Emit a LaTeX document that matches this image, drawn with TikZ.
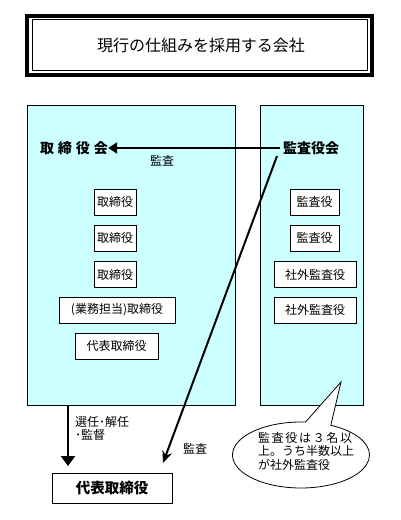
\documentclass[tikz,border=0pt]{standalone}
\usepackage{fontspec}
\setmainfont{Noto Sans CJK JP}
\usetikzlibrary{shapes.callouts,arrows.meta}
\definecolor{cyanbg}{HTML}{CCFFFF}
\tikzset{
  panel/.style={draw, line width=0.8pt, fill=cyanbg},
  smallbox/.style={draw, fill=white, line width=0.8pt, minimum height=26pt, inner sep=0pt, font=\fontsize{12}{12}\selectfont},
  lbl/.style={inner sep=0pt, font=\fontsize{12}{13.5}\selectfont},
  boldlbl/.style={inner sep=0pt, font=\fontsize{14}{14}\selectfont\bfseries},
  thickarr/.style={line width=2.5pt, -{Triangle[length=9pt,width=11pt]}},
  downarr/.style={line width=2.5pt, -{Triangle[length=10pt,width=14pt]}},
  diagarr/.style={line width=2pt, -{Stealth[length=12pt,width=10pt]}}
}
\begin{document}
\begin{tikzpicture}[x=1pt,y=-1pt]
\useasboundingbox (0,0) rectangle (400,520);
% title
\draw[line width=4pt] (27,16) rectangle (371.5,75);
\draw[line width=0.8pt] (32,19.5) rectangle (367,70.5);
\node[inner sep=0pt, font=\fontsize{16}{16}\selectfont] (title) at (201,45) {現行の仕組みを採用する会社};
% panels
\node[panel, minimum width=208pt, minimum height=300pt, inner sep=0pt] (left) at (131,255) {};
\node[panel, minimum width=103pt, minimum height=300pt, inner sep=0pt] (right) at (311.5,255) {};
% headings
\node[boldlbl] (board) at (74,148) {取\hspace{4pt}締\hspace{4pt}役\hspace{4pt}会};
\node[boldlbl] (audboard) at (311,148) {監査役会};
% left boxes
\node[smallbox, minimum width=42pt] (d1) at (115,202) {取締役};
\node[smallbox, minimum width=42pt] (d2) at (115,238) {取締役};
\node[smallbox, minimum width=42pt] (d3) at (115,274.5) {取締役};
\node[smallbox, minimum width=116pt] (d4) at (117,310) {(業務担当)取締役};
\node[smallbox, minimum width=83pt] (d5) at (116.5,346) {代表取締役};
% right boxes
\node[smallbox, minimum width=49pt] (a1) at (314.5,202) {監査役};
\node[smallbox, minimum width=49pt] (a2) at (314.5,238) {監査役};
\node[smallbox, minimum width=82pt] (a3) at (315,274.5) {社外監査役};
\node[smallbox, minimum width=82pt] (a4) at (315,310) {社外監査役};
% bottom box
\node[draw, fill=white, line width=0.8pt, minimum width=120pt, minimum height=30pt, inner sep=0pt, font=\fontsize{14.5}{14.5}\selectfont\bfseries] (rep) at (112,488) {代表取締役};
% arrows
\draw[thickarr] (audboard.west) ++(-3,0) coordinate (hstart) (hstart) -- (board.east);
\node[lbl] (l1) at (162,161) {監査};
\coordinate (dstart) at (68,405);
\coordinate (dend) at (68,466);
\draw[downarr] (dstart) -- (dend);
\node[lbl, align=left, anchor=north west] (l2) at (75,416) {選任･解任\\･監督};
\coordinate (gstart) at (277,156);
\coordinate (gend) at (163,463);
\draw[diagarr] (gstart) -- (gend);
\node[lbl] (l3) at (195,449) {監査};
% callout
\node[ellipse callout, draw, fill=white, line width=0.8pt, minimum width=137pt, minimum height=66pt, inner sep=0pt, callout absolute pointer={(341,382)}, callout pointer arc=22] (note) at (301,455) {};
\node[lbl, align=left] (notetext) at (306,451) {監\hspace{1.7pt}査\hspace{1.7pt}役\hspace{1.7pt}は\hspace{1.7pt}３\hspace{1.7pt}名\hspace{1.7pt}以\\上。うち半数以上\\が社外監査役};
\end{tikzpicture}
\end{document}
